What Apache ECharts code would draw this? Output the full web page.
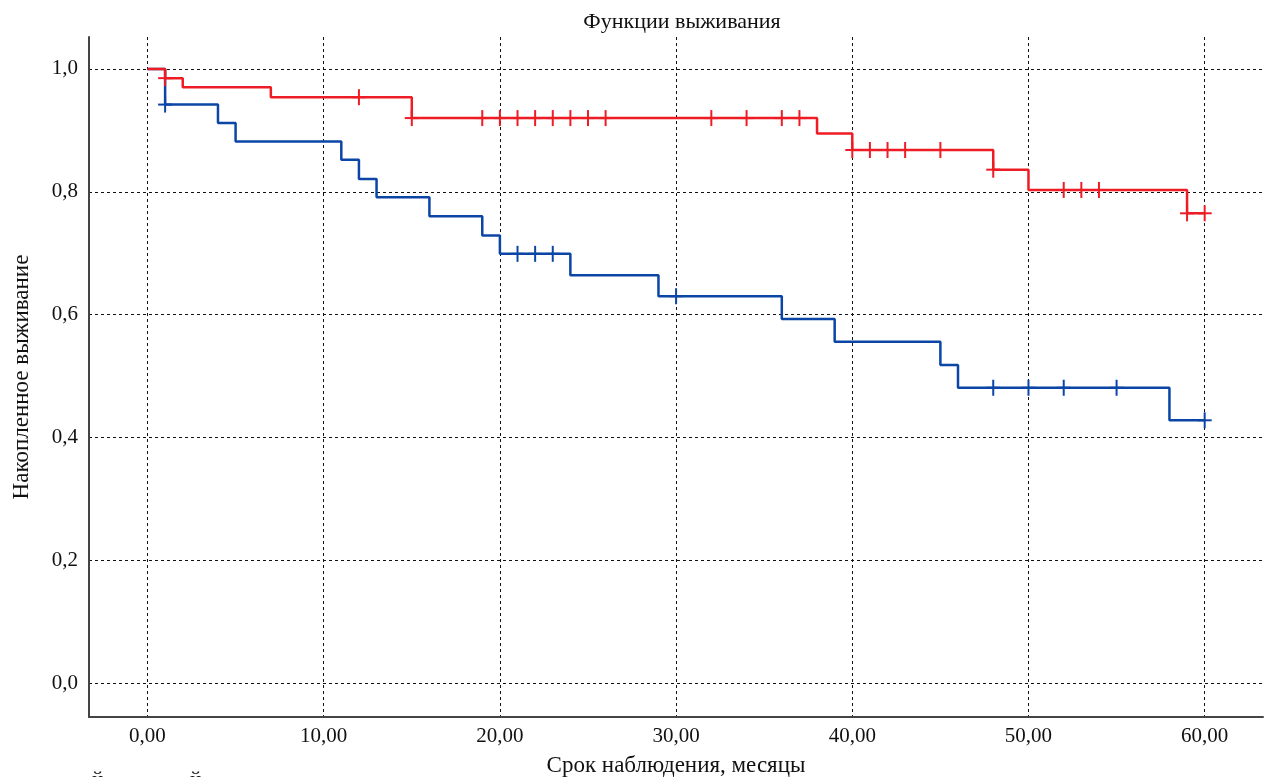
<!DOCTYPE html>
<html>
<head>
<meta charset="utf-8">
<script src="https://cdn.jsdelivr.net/npm/echarts@6/dist/echarts.min.js"></script>
<style>
html,body{margin:0;padding:0;background:#fff;overflow:hidden;}
#chart{width:1275px;height:777px;}
</style>
</head>
<body>
<div id="chart"></div>
<script>
// Group 1 (red): step times and survival values
const redTimes = [0, 1, 2, 7, 15, 38, 40, 48, 50, 59, 60];
const redSurv  = [1.0, 0.985, 0.970, 0.954, 0.920, 0.895, 0.868, 0.836, 0.803, 0.765, 0.765];
const redCensored = [1, 12, 15, 19, 20, 21, 22, 23, 24, 25, 26, 32, 34, 36, 37, 40, 41, 42, 43, 45, 48, 52, 53, 54, 59, 60];

// Group 2 (blue)
const blueTimes = [0, 1, 4, 5, 11, 12, 13, 16, 19, 20, 24, 29, 36, 39, 45, 46, 58, 60];
const blueSurv  = [1.0, 0.942, 0.912, 0.882, 0.852, 0.821, 0.791, 0.760, 0.729, 0.699, 0.664, 0.630, 0.593, 0.556, 0.518, 0.481, 0.428, 0.428];
const blueCensored = [1, 21, 22, 23, 30, 48, 50, 52, 55, 60];

const xTicks = [0, 10, 20, 30, 40, 50, 60];
const yTicks = [0, 0.2, 0.4, 0.6, 0.8, 1.0];

const titleText = 'Функции выживания';
const xName = 'Срок наблюдения, месяцы';
const yName = 'Накопленное выживание';

const RED = '#ee1c25';
const BLUE = '#0b45a6';
const FONT = '"Liberation Serif", "DejaVu Serif", serif';

function stepValueAt(times, surv, t) {
  let v = surv[0];
  for (let i = 0; i < times.length; i++) { if (times[i] <= t) v = surv[i]; }
  return v;
}
function pairs(times, surv) { return times.map((t, i) => [t, surv[i]]); }
function censorPts(times, surv, cens) { return cens.map(t => [t, stepValueAt(times, surv, t)]); }

function plusRenderer(color) {
  return function (params, api) {
    const c = api.coord([api.value(0), api.value(1)]);
    const style = { stroke: color, lineWidth: 2 };
    return {
      type: 'group',
      children: [
        { type: 'line', shape: { x1: c[0] - 7, y1: c[1], x2: c[0] + 7, y2: c[1] }, style: style },
        { type: 'line', shape: { x1: c[0], y1: c[1] - 8, x2: c[0], y2: c[1] + 8 }, style: style }
      ]
    };
  };
}

const chart = echarts.init(document.getElementById('chart'), null, { renderer: 'canvas' });
chart.setOption({
  animation: false,
  backgroundColor: '#ffffff',
  textStyle: { fontFamily: FONT },
  title: {
    text: titleText,
    left: 677, top: 6, textAlign: 'center',
    textStyle: { fontFamily: FONT, fontSize: 22, fontWeight: 'normal', color: '#111' }
  },
  grid: { left: 89, right: 12, top: 37, bottom: 60, containLabel: false, outerBoundsMode: 'none' },
  xAxis: {
    type: 'value', min: -3.32, max: 63.31,
    name: xName, nameLocation: 'middle', nameGap: 37,
    nameTextStyle: { fontFamily: FONT, fontSize: 23, color: '#111' },
    axisLine: { show: true, onZero: false, lineStyle: { color: '#444', width: 2 } },
    axisTick: { show: false, customValues: xTicks },
    axisLabel: {
      customValues: xTicks, margin: 9,
      fontFamily: FONT, fontSize: 21, color: '#111',
      formatter: v => v.toFixed(2).replace('.', ',')
    },
    splitLine: { show: true, lineStyle: { color: '#111', width: 1, type: [3, 3] } }
  },
  yAxis: {
    type: 'value', min: -0.055, max: 1.052,
    name: yName, nameLocation: 'middle', nameGap: 56, nameRotate: 90,
    nameTextStyle: { fontFamily: FONT, fontSize: 23, color: '#111' },
    axisLine: { show: true, onZero: false, lineStyle: { color: '#444', width: 2 } },
    axisTick: { show: false, customValues: yTicks },
    axisLabel: {
      customValues: yTicks, margin: 11,
      fontFamily: FONT, fontSize: 21, color: '#111',
      formatter: v => v.toFixed(1).replace('.', ',')
    },
    splitLine: { show: true, lineStyle: { color: '#111', width: 1, type: [3, 3] } }
  },
  series: [
    {
      type: 'line', step: 'end', data: pairs(blueTimes, blueSurv),
      symbol: 'none', lineStyle: { color: BLUE, width: 2.5 }, z: 3
    },
    {
      type: 'custom', data: censorPts(blueTimes, blueSurv, blueCensored),
      renderItem: plusRenderer(BLUE), z: 4
    },
    {
      type: 'line', step: 'end', data: pairs(redTimes, redSurv),
      symbol: 'none', lineStyle: { color: RED, width: 2.5 }, z: 5
    },
    {
      type: 'custom', data: censorPts(redTimes, redSurv, redCensored),
      renderItem: plusRenderer(RED), z: 6
    }
  ],
  graphic: [
    { type: 'text', left: 92, top: 770, style: { text: 'й', fontFamily: FONT, fontSize: 21, fill: '#111' } },
    { type: 'text', left: 190, top: 770, style: { text: 'й', fontFamily: FONT, fontSize: 21, fill: '#111' } }
  ]
});
</script>
</body>
</html>
